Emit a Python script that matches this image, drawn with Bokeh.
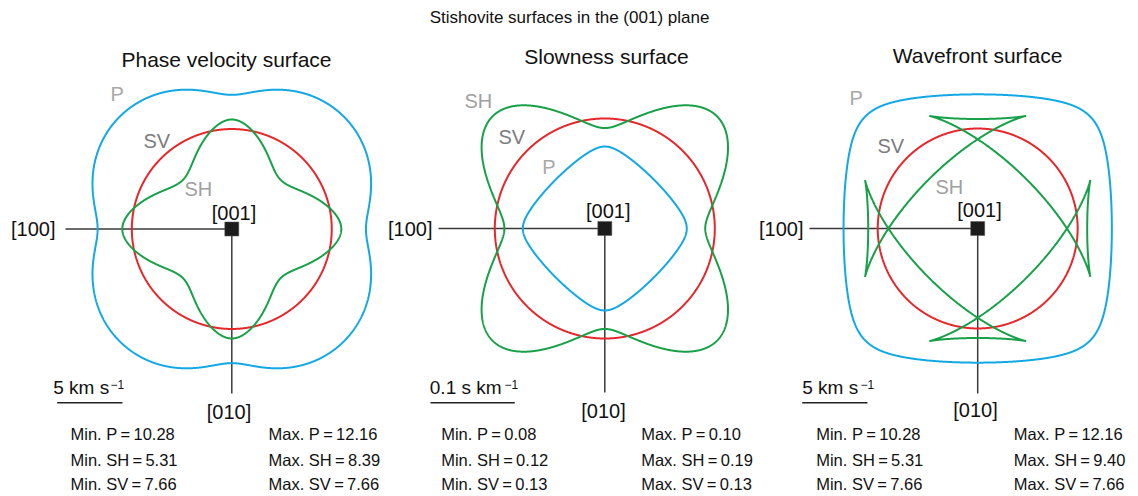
import numpy as np
from bokeh.plotting import figure
from bokeh.layouts import row
from bokeh.models import Label, Range1d
from bokeh.embed import file_html
from bokeh.resources import INLINE

# ---------------- data ----------------
modes = ["P", "SH", "SV"]
# phase velocity (km/s): min / max in the (001) plane
phase_min = [10.28, 5.31, 7.66]
phase_max = [12.16, 8.39, 7.66]
# slowness (s/km)
slow_min = [0.08, 0.12, 0.13]
slow_max = [0.10, 0.19, 0.13]
# wavefront / group velocity (km/s)
wave_min = [10.28, 5.31, 7.66]
wave_max = [12.16, 9.40, 7.66]
# scale bars
scale_values = [5, 0.1, 5]
scale_numbers = ["5", "0.1", "5"]
scale_units = ["km s", "s km", "km s"]
panel_titles = ["Phase velocity surface", "Slowness surface", "Wavefront surface"]
main_title = "Stishovite surfaces in the (001) plane"

# ---------------- Christoffel solution (tetragonal, (001) plane) ----------------
# P is slowest along [100] and fastest along [110]; SH fastest along [100], slowest along [110]
a = phase_min[0] ** 2          # C11/rho
b = phase_max[1] ** 2          # C66/rho
d = phase_max[0] ** 2 - phase_min[1] ** 2   # (C12+C66)/rho
A, B, D = (a + b) / 2, (a - b) / 2, d / 2
vSV = phase_max[2]

theta = np.linspace(0, 2 * np.pi, 4001)
c, s = np.cos(theta), np.sin(theta)
R = np.sqrt(B ** 2 * np.cos(2 * theta) ** 2 + D ** 2 * np.sin(2 * theta) ** 2)
dR = np.sin(4 * theta) * (D ** 2 - B ** 2) / R
vP = np.sqrt(A + R)
vSH = np.sqrt(A - R)
dvP = dR / (2 * vP)
dvSH = -dR / (2 * vSH)
v = {"P": vP, "SH": vSH, "SV": np.full_like(theta, vSV)}
dv = {"P": dvP, "SH": dvSH, "SV": np.zeros_like(theta)}

COL = {"P": "#12a8e4", "SH": "#17a048", "SV": "#e5262b"}
LBL = {"P": "#a8a8a8", "SH": "#a0a0a0", "SV": "#7c7c7c"}
FONT = "Liberation Sans"
TS = "\u2009"   # thin space

H = 496
TOP = 0


def make_panel(x0, width, cx, cy, k):
    p = figure(width=width, height=H, output_backend="svg", toolbar_location=None,
               x_range=Range1d((x0 - cx) / k, (x0 + width - cx) / k),
               y_range=Range1d((cy - (TOP + H)) / k, (cy - TOP) / k),
               x_axis_location=None, y_axis_location=None,
               min_border=0, min_border_left=0, min_border_right=0,
               min_border_top=0, min_border_bottom=0)
    p.grid.visible = False
    p.outline_line_color = None
    p.background_fill_color = "white"
    p.border_fill_color = "white"

    def X(px):
        return (px - cx) / k

    def Y(py):
        return (cy - py) / k

    def txt(px, py, t, size, color="#111111", align="left"):
        p.add_layout(Label(x=X(px), y=Y(py), text=t, text_font=FONT,
                           text_font_size=size, text_color=color,
                           text_align=align, text_baseline="middle"))
    return p, X, Y, txt


# panel geometry (page pixels; text y = visual centre)
panels = [
    dict(x0=0, w=384, cx=231.3, cy=228.5, k=13.05,
         title=(226, 58.5), h0=65, v1=393,
         lab={"P": (110, 93.8), "SV": (143, 140.8), "SH": (184, 188.8)},
         l100=(55, 228), l001=(233.5, 212), l010=(228.5, 411.8),
         sb=(52.7, 56.7, 110), mn=70, mx=268),
    dict(x0=384, w=372, cx=604.3, cy=228, k=842.6,
         title=(606, 55.5), h0=438, v1=392,
         lab={"SH": (464, 100.3), "SV": (498, 136.8), "P": (541.7, 166.8)},
         l100=(432, 228), l001=(607.7, 210), l010=(603, 410),
         sb=(429.3, 430, 504), mn=440.7, mx=640.7),
    dict(x0=756, w=382, cx=977.2, cy=228, k=13.05,
         title=(977, 54.5), h0=809, v1=393,
         lab={"P": (849, 97.8), "SV": (877, 145.5), "SH": (935, 186.1)},
         l100=(803, 228), l001=(979, 209.5), l010=(975, 409.5),
         sb=(801.7, 801.7, 860), mn=815.7, mx=1013.3),
]

mins = [phase_min, slow_min, wave_min]
maxs = [phase_max, slow_max, wave_max]

figs = []
for i, g in enumerate(panels):
    p, X, Y, txt = make_panel(g["x0"], g["w"], g["cx"], g["cy"], g["k"])

    # crystal axes
    p.segment(x0=[X(g["h0"]), 0], y0=[0, 0], x1=[0, 0], y1=[0, Y(g["v1"])],
              line_color="#3a3a3a", line_width=1.5)

    # surfaces
    for m in ["P", "SV", "SH"]:
        if i == 0:
            xs, ys = v[m] * c, v[m] * s
        elif i == 1:
            xs, ys = c / v[m], s / v[m]
        else:
            xs = v[m] * c - dv[m] * s
            ys = v[m] * s + dv[m] * c
        p.line(xs, ys, line_color=COL[m], line_width=2)

    # [001] square
    p.scatter([0], [0], marker="square", size=14, fill_color="#1c1c1c",
              line_color="#555555", line_width=0.5)

    # labels
    txt(g["title"][0], g["title"][1], panel_titles[i], "21px", align="center")
    for m, (lx, ly) in g["lab"].items():
        txt(lx, ly, m, "20px", LBL[m])
    txt(g["l100"][0], g["l100"][1], "[100]", "20px", align="right")
    txt(g["l001"][0], g["l001"][1], "[001]", "20px", align="center")
    txt(g["l010"][0], g["l010"][1], "[010]", "20px", align="center")

    # scale bar
    tx, lx0, supx = g["sb"]
    p.segment(x0=[X(lx0)], y0=[Y(402.3)], x1=[X(lx0) + scale_values[i]], y1=[Y(402.3)],
              line_color="#222222", line_width=1.5)
    txt(tx, 386.5, f"{scale_numbers[i]} {scale_units[i]}", "19px")
    txt(supx, 383.5, "\u22121", "12px")

    # min / max
    for j, m in enumerate(modes):
        yc = [433, 459, 483][j]
        txt(g["mn"], yc, f"Min. {m}{TS}={TS}{mins[i][j]:.2f}", "16.5px")
        txt(g["mx"], yc, f"Max. {m}{TS}={TS}{maxs[i][j]:.2f}", "16.5px")

    if i == 1:
        txt(569, 17, main_title, "17px", align="center")
    figs.append(p)

layout = row(*figs, spacing=0)
open("out.html", "w").write(file_html(layout, INLINE))
